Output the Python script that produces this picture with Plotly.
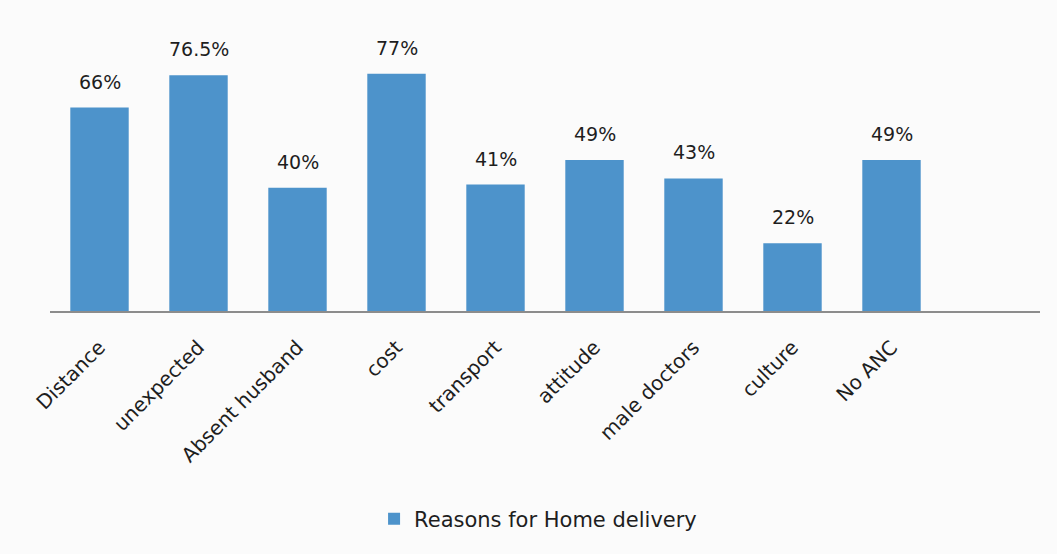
import plotly.graph_objects as go

categories = ["Distance", "unexpected", "Absent husband", "cost", "transport",
              "attitude", "male doctors", "culture", "No ANC", " "]
values = [66, 76.5, 40, 77, 41, 49, 43, 22, 49, None]
series_name = "Reasons for Home delivery"

bar_color = "#4d93cb"
font_family = "DejaVu Sans, Open Sans, sans-serif"
text_color = "#1e1e1e"

fig = go.Figure()
fig.add_trace(go.Bar(
    x=categories,
    y=values,
    name=series_name,
    marker=dict(color=bar_color, line=dict(width=0)),
    width=0.59,
    showlegend=True,
))

# value labels above each bar
for c, v in zip(categories, values):
    if v is None:
        continue
    fig.add_annotation(
        x=c, y=v, text=f"{v:g}%", showarrow=False,
        yanchor="bottom", yshift=13,
        font=dict(family=font_family, size=19, color=text_color),
    )

fig.update_layout(
    width=1057, height=554,
    margin=dict(l=50, r=17, t=49, b=243),
    paper_bgcolor="#fbfbfb",
    plot_bgcolor="#fbfbfb",
    font=dict(family=font_family, size=18, color=text_color),
    showlegend=True,
    legend=dict(
        orientation="h", x=0.493, y=-0.794, xanchor="center", yanchor="middle",
        font=dict(family=font_family, size=21, color=text_color),
        bgcolor="rgba(0,0,0,0)",
    ),
)
fig.update_xaxes(
    type="category",
    tickangle=-45,
    showline=True, linecolor="#8c8c8c", linewidth=1.5,
    ticks="", showgrid=False, zeroline=False,
    ticklabelstandoff=15,
    tickfont=dict(family=font_family, size=20, color=text_color),
)
fig.update_yaxes(
    range=[0, 85], visible=False, showgrid=False, zeroline=False,
)

fig.write_html("out.html")
